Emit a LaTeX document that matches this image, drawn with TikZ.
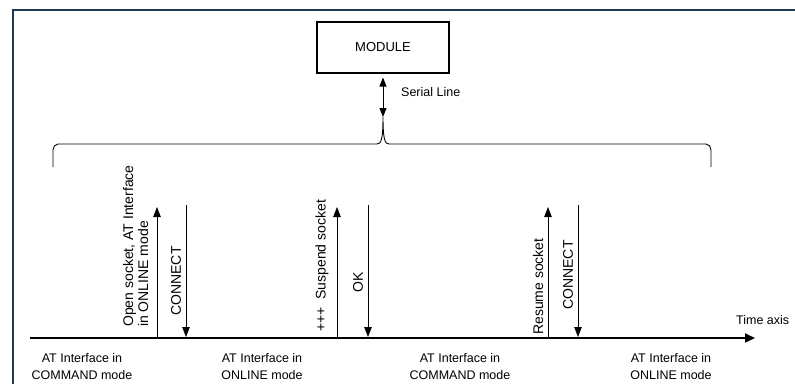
\documentclass[tikz,border=0pt]{standalone}
\usepackage{fontspec}
\setmainfont{Liberation Sans}
\usetikzlibrary{positioning,arrows.meta}
\definecolor{framecol}{RGB}{31,56,86}

\begin{document}
\begin{tikzpicture}[x=1pt, y=-1pt,
		lbl/.style = {font=\fontsize{12.5}{17}\selectfont, align=center},
		vlbl/.style = {font=\fontsize{14}{15}\selectfont, rotate=90, inner sep=0pt},
		msg/.style = {line width=0.9pt, -{Triangle[length=10pt,width=7.5pt]}}]
		\useasboundingbox (0,0) rectangle (795,383);
		\draw[framecol, line width=2pt] (13,390) -- (13,10) -- (800,10);
		% module and serial line
		\node[draw, line width=1.1pt, minimum width=132pt, minimum height=51pt, font=\fontsize{13}{15}\selectfont] (module) at (383,47.5) {MODULE};
		\coordinate (tip) at (383,117);
		\draw[line width=0.9pt, shorten <=4pt, {Triangle[length=9pt,width=7pt]}-{Triangle[length=9pt,width=7pt]}] (module.south) -- (tip);
		\node[lbl, anchor=west, inner sep=0pt] (serial) at (401,92) {Serial Line};
		\draw[line width=0.9pt] (53,167) -- (53,150) to[out=90,in=180] (58,144) -- (377,144)
			.. controls (381,144) and (383,140) .. (tip)
			.. controls (383,140) and (385,144) .. (389,144) -- (706,144) to[out=0,in=90] (711,150) -- (711,167);
		% time axis
		\coordinate (t0) at (30,338);
		\coordinate (t1) at (755,338);
		\draw[line width=1.8pt, -{Triangle[length=10pt,width=9pt]}] (t0) -- (t1);
		\node[lbl, anchor=west, inner sep=0pt] (timeax) at (736,320) {Time axis};
		% messages
		\coordinate (open0) at (157,338); \coordinate (open1) at (157,207);
		\coordinate (con0) at (186,205); \coordinate (con1) at (186,337);
		\coordinate (sus0) at (337,338); \coordinate (sus1) at (337,207);
		\coordinate (ok0) at (368,205); \coordinate (ok1) at (368,337);
		\coordinate (res0) at (548,338); \coordinate (res1) at (548,207);
		\coordinate (rcon0) at (578,205); \coordinate (rcon1) at (578,337);
		\draw[msg] (open0) -- (open1);
		\draw[msg] (con0) -- (con1);
		\draw[msg] (sus0) -- (sus1);
		\draw[msg] (ok0) -- (ok1);
		\draw[msg] (res0) -- (res1);
		\draw[msg] (rcon0) -- (rcon1);
		\node[vlbl, anchor=west, align=left] (openlbl) at (135.5,327) {Open socket, AT Interface\\in ONLINE mode};
		\node[vlbl] (conlbl) at (176,281) {CONNECT};
		\node[vlbl, anchor=west] (suslbl) at (322,332) {+++ \ Suspend socket};
		\node[vlbl] (oklbl) at (358,282) {OK};
		\node[vlbl, anchor=west] (reslbl) at (538,335) {Resume socket};
		\node[vlbl] (rconlbl) at (568,275) {CONNECT};
		% interface states
		\node[lbl] (cmd1) at (82,367) {AT Interface in\\COMMAND mode};
		\node[lbl] (onl1) at (262,367) {AT Interface in\\ONLINE mode};
		\node[lbl] (cmd2) at (460,367) {AT Interface in\\COMMAND mode};
		\node[lbl] (onl2) at (671,367) {AT Interface in\\ONLINE mode};
	\end{tikzpicture}
\end{document}
